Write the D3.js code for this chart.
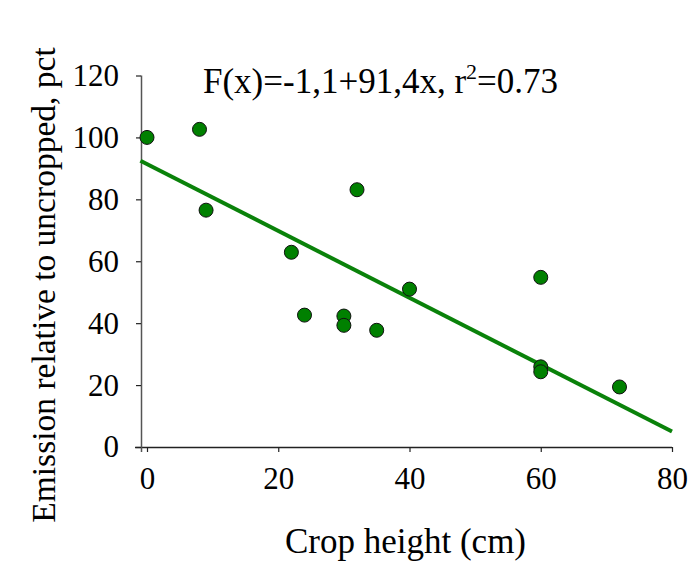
<!DOCTYPE html>
<html>
<head>
<meta charset="utf-8">
<script src="https://cdn.jsdelivr.net/npm/d3@7/dist/d3.min.js"></script>
<style>
  html, body { margin: 0; padding: 0; background: #fff; }
  svg { display: block; }
  text { font-family: "Liberation Serif", "Times New Roman", serif; fill: #000; }
</style>
</head>
<body>
<script>
// Crop height (cm) and emission relative to uncropped (%)
const cropHeight = [0, 8, 9, 22, 24, 30, 30, 32, 35, 40, 60, 60, 60, 72];
const emission   = [100, 102.6, 76.5, 62.9, 42.6, 42.3, 39.3, 83.1, 37.7, 51, 54.8, 25.9, 24.3, 19.4];

// Linear fit drawn across the plotted range
const fitIntercept = 91.4;
const fitSlope = -1.08;
const fitRange = [-1, 80];

const xTicks = [0, 20, 40, 60, 80];
const yTicks = [0, 20, 40, 60, 80, 100, 120];

const W = 696, H = 565;
const svg = d3.select("body").append("svg").attr("width", W).attr("height", H);

const x = d3.scaleLinear().domain([0, 80]).range([147, 672]);
const y = d3.scaleLinear().domain([0, 120]).range([447, 75.5]);

const axisColor = "#222";

// X axis
const gx = svg.append("g")
  .attr("transform", `translate(0,${y(0)})`)
  .call(d3.axisBottom(x).tickValues(xTicks).tickSize(5).tickSizeOuter(0).tickPadding(8));
gx.select(".domain").attr("d", `M${x(0) - 12},0.5H${x(80)}`).attr("stroke", axisColor).attr("stroke-width", 1.3);
gx.selectAll(".tick line").attr("stroke", axisColor).attr("stroke-width", 1.2);
gx.selectAll(".tick text").attr("font-size", 31).attr("font-family", "Liberation Serif").attr("fill", "#000").attr("dy", "0.95em");

// Y axis
const gy = svg.append("g")
  .attr("transform", `translate(${x(0) - 6},0)`)
  .call(d3.axisLeft(y).tickValues(yTicks).tickSize(5).tickSizeOuter(0).tickPadding(17));
gy.select(".domain").attr("d", `M0.5,${y(120)}V${y(0) + 5}`).attr("stroke", "#555").attr("stroke-width", 1.5);
gy.selectAll(".tick line").attr("stroke", axisColor).attr("stroke-width", 1.2);
gy.selectAll(".tick text").attr("font-size", 31).attr("font-family", "Liberation Serif").attr("fill", "#000");

// Regression line
const line = d3.line().x(d => x(d)).y(d => y(fitIntercept + fitSlope * d));
svg.append("path")
  .attr("d", line(fitRange))
  .attr("fill", "none")
  .attr("stroke", "#0a820a")
  .attr("stroke-width", 4);

// Observations
svg.append("g").selectAll("circle")
  .data(cropHeight.map((h, i) => ({ h, e: emission[i] })))
  .join("circle")
  .attr("cx", d => x(d.h))
  .attr("cy", d => y(d.e))
  .attr("r", 7)
  .attr("fill", "#008000")
  .attr("stroke", "#111")
  .attr("stroke-width", 1);

// Equation
const eq = svg.append("text").attr("x", 203).attr("y", 93).attr("font-size", 35);
eq.append("tspan").text("F(x)=-1,1+91,4x, r");
eq.append("tspan").attr("font-size", 22).attr("dy", -14).text("2");
eq.append("tspan").attr("dy", 14).text("=0.73");

// Axis titles
svg.append("text")
  .attr("x", (x(0) + x(80)) / 2 - 4)
  .attr("y", 553)
  .attr("text-anchor", "middle")
  .attr("font-size", 35)
  .text("Crop height (cm)");

svg.append("text")
  .attr("transform", `translate(55,${285}) rotate(-90)`)
  .attr("text-anchor", "middle")
  .attr("font-size", 33.5)
  .text("Emission relative to uncropped, pct");
</script>
</body>
</html>
